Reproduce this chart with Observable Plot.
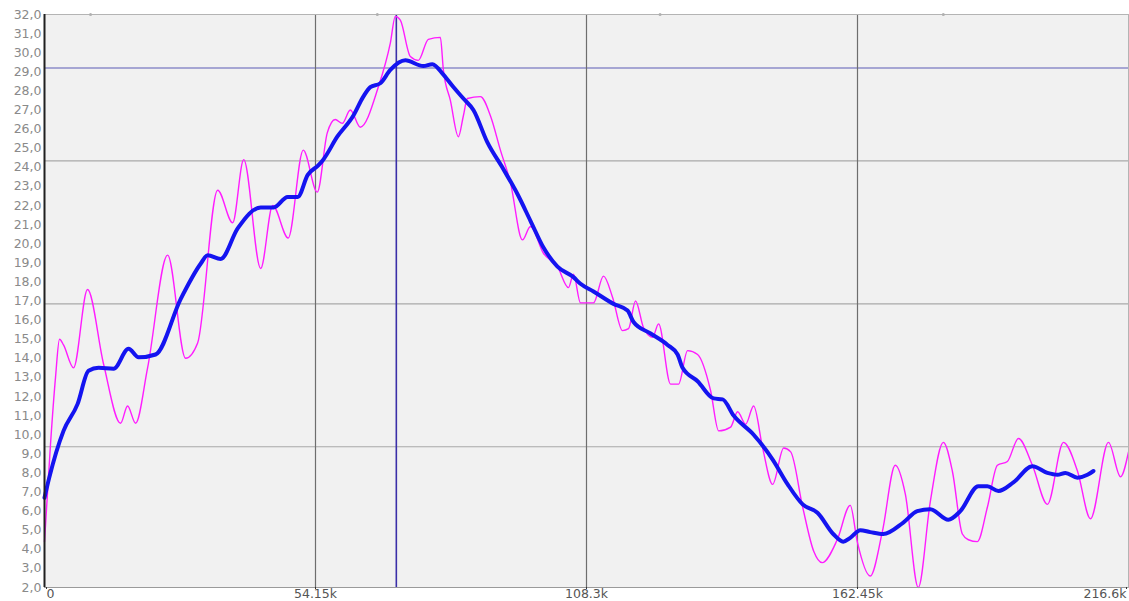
<!DOCTYPE html>
<html>
<head>
<meta charset="utf-8">
<script src="https://cdn.jsdelivr.net/npm/d3@7"></script>
<script src="https://cdn.jsdelivr.net/npm/@observablehq/plot@0.6"></script>
<style>
  html, body { margin: 0; padding: 0; background: #ffffff; overflow: hidden; }
  #chart svg { display: block; }
</style>
</head>
<body>
<div id="chart"></div>
<script>
// x values in thousands (k)
const rawX = [0, 1.2, 2.2, 3.0, 3.8, 5.8, 8.6, 11.8, 15.2, 16.6, 18.2, 20.6, 24.6, 28.2, 30.6, 34.6, 37.6, 39.8, 43.2, 45.6, 48.7, 51.7, 54.5, 56.5, 58.1, 59.5, 61.1, 63.1, 66.7, 69.1, 70.1, 71.1, 73.1, 74.7, 76.7, 79.1, 79.7, 81.1, 82.7, 83.7, 84.5, 87.1, 89.1, 91.1, 93.1, 95.5, 97.1, 99.7, 102.5, 104.7, 105.7, 107.1, 109.7, 111.7, 113.5, 115.5, 116.7, 118.1, 119.7, 121.5, 122.7, 125.1, 126.7, 128.5, 130.5, 133.1, 134.7, 137.1, 138.5, 140.1, 141.7, 143.5, 145.5, 147.7, 149.1, 151.5, 153.7, 155.4, 158.4, 161.0, 162.4, 165.0, 167.4, 170.0, 172.0, 174.6, 177.0, 179.6, 181.4, 183.4, 184.6, 186.4, 188.4, 190.4, 192.4, 194.6, 197.4, 200.4, 203.6, 206.4, 209.0, 212.6, 215.0, 216.6];
const rawY = [4.4, 9.5, 13.0, 15.0, 14.7, 13.5, 17.6, 13.7, 10.6, 11.5, 10.6, 13.5, 19.4, 14.0, 14.8, 22.8, 21.1, 24.4, 18.7, 22.0, 20.3, 24.9, 22.7, 25.8, 26.5, 26.3, 27.0, 26.1, 28.2, 30.5, 31.9, 31.7, 29.8, 29.6, 30.7, 30.8, 29.1, 27.5, 25.6, 26.7, 27.6, 27.7, 26.7, 24.9, 23.2, 20.2, 20.9, 19.5, 18.8, 17.7, 18.4, 16.9, 16.9, 18.3, 17.2, 15.45, 15.55, 17.0, 15.6, 15.1, 15.8, 12.65, 12.65, 14.4, 14.2, 12.3, 10.2, 10.4, 11.2, 10.55, 11.5, 9.3, 7.4, 9.3, 9.1, 6.2, 3.9, 3.3, 4.5, 6.3, 4.4, 2.6, 4.9, 8.4, 6.9, 2.0, 6.5, 9.6, 8.1, 4.8, 4.5, 4.4, 6.2, 8.4, 8.6, 9.8, 8.4, 6.35, 9.6, 8.1, 5.6, 9.6, 7.8, 9.1];

const smoothX = [0, 0.9, 3.8, 6.6, 8.8, 10.8, 13.8, 16.8, 18.8, 22.2, 27.2, 31.2, 32.6, 35.2, 38.6, 43.2, 45.8, 48.6, 50.6, 52.6, 54.7, 55.7, 58.5, 61.7, 63.7, 65.1, 67.1, 69.1, 72.1, 75.7, 77.5, 79.7, 81.7, 83.7, 85.7, 88.5, 91.7, 94.5, 97.1, 99.7, 102.5, 105.7, 107.1, 109.7, 113.7, 116.5, 117.7, 121.1, 124.5, 126.5, 127.5, 130.5, 133.7, 135.5, 137.7, 141.7, 145.5, 148.5, 151.5, 154.5, 157.6, 159.6, 161.0, 163.0, 165.0, 167.6, 171.6, 174.4, 177.0, 180.6, 183.0, 186.6, 188.4, 190.6, 193.6, 197.4, 200.4, 202.4, 204.0, 206.4, 208.4, 209.6];
const smoothY = [6.7, 7.7, 10.2, 11.6, 13.35, 13.5, 13.45, 14.5, 14.05, 14.2, 17.1, 18.95, 19.4, 19.2, 20.8, 21.9, 21.9, 22.45, 22.45, 23.6, 24.1, 24.4, 25.6, 26.7, 27.7, 28.2, 28.4, 29.1, 29.6, 29.3, 29.4, 28.85, 28.2, 27.6, 27.0, 25.3, 23.9, 22.6, 21.2, 19.8, 18.8, 18.25, 17.9, 17.5, 16.85, 16.5, 15.9, 15.3, 14.7, 14.2, 13.5, 12.8, 11.9, 11.85, 11.0, 10.0, 8.7, 7.4, 6.35, 5.9, 4.8, 4.4, 4.6, 5.0, 4.9, 4.8, 5.4, 6.0, 6.1, 5.55, 6.0, 7.3, 7.3, 7.05, 7.5, 8.35, 8.0, 7.9, 8.0, 7.75, 7.9, 8.1];

const xTicksFirst = [0];
const xTicksMid = [54.15, 108.3, 162.45];
const xTicksLast = [216.6];
const yTicks = [2, 3, 4, 5, 6, 7, 8, 9, 10, 11, 12, 13, 14, 15, 16, 17, 18, 19, 20, 21, 22, 23, 24, 25, 26, 27, 28, 29, 30, 31, 32];
const gridX = [54.15, 108.3, 162.45];
const levelLines = [24.34, 16.85, 9.37];
const peakLevel = [29.2];
const cursorX = [70.3];
const topMarks = [9.2, 66.5, 123.0, 179.6];

const raw = rawX.map((x, i) => ({x, y: rawY[i]}));
const smooth = smoothX.map((x, i) => ({x, y: smoothY[i]}));

const fmtY = d => d.toFixed(1).replace(".", ",");
const fmtX = d => d === 0 ? "0" : `${d}k`;
const xAxisStyle = {tickSize: 2, tickPadding: 0, tickFormat: fmtX, fill: "#555555", stroke: "#333", label: null};

const chart = Plot.plot({
  width: 1129,
  height: 601,
  marginTop: 14,
  marginBottom: 14,
  marginLeft: 44,
  marginRight: 1,
  style: {background: "#ffffff", fontFamily: "DejaVu Sans, Tahoma, sans-serif", fontSize: "12.5px"},
  x: {domain: [0, 216.6]},
  y: {domain: [2, 32]},
  marks: [
    Plot.frame({fill: "#f1f1f1", stroke: null}),
    Plot.ruleY(levelLines, {stroke: "#a9a9a9", strokeWidth: 1.2}),
    Plot.ruleY(peakLevel, {stroke: "#8c8cc8", strokeWidth: 1.5}),
    Plot.ruleX(gridX, {stroke: "#6e6e6e", strokeWidth: 1.2}),
    Plot.ruleX(cursorX, {stroke: "#3a2fa8", strokeWidth: 1.6}),
    Plot.line(raw, {x: "x", y: "y", stroke: "#ff1cff", strokeWidth: 1.4, curve: "monotone-x"}),
    Plot.line(smooth, {x: "x", y: "y", stroke: "#1414f0", strokeWidth: 4, curve: "monotone-x"}),
    Plot.frame({stroke: "#b4b4b4", strokeWidth: 1}),
    Plot.dot(topMarks, {x: d => d, y: () => 32, r: 1.5, fill: "#b0b0b0", stroke: null}),
    Plot.ruleX([0], {stroke: "#202020", strokeWidth: 2}),
    Plot.ruleY([2], {stroke: "#9a9a9a", strokeWidth: 1.2}),
    Plot.axisY({ticks: yTicks, tickSize: 0, tickPadding: 3, tickFormat: fmtY, fill: "#8a8a8a", label: null}),
    Plot.axisX({...xAxisStyle, ticks: xTicksFirst, textAnchor: "start", dx: 2}),
    Plot.axisX({...xAxisStyle, ticks: xTicksMid}),
    Plot.axisX({...xAxisStyle, ticks: xTicksLast, textAnchor: "end", dx: -2})
  ]
});
document.getElementById("chart").appendChild(chart);
</script>
</body>
</html>
